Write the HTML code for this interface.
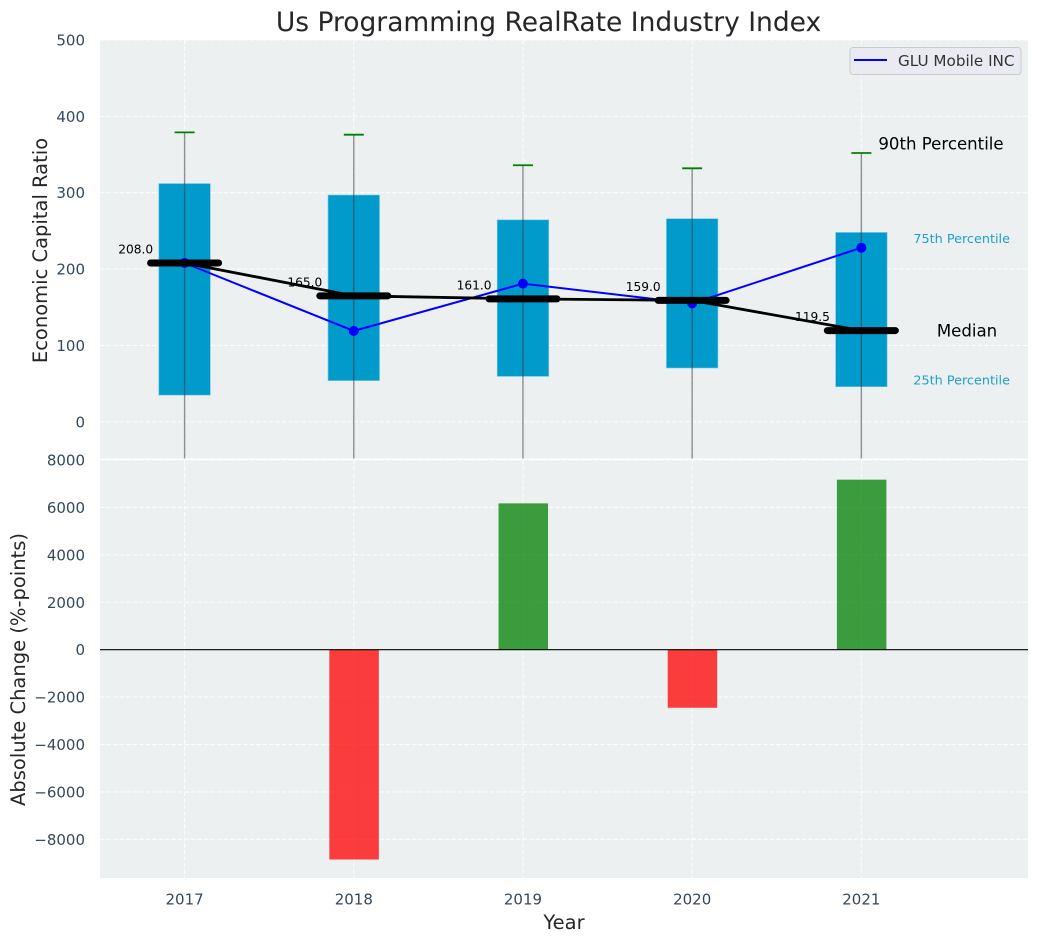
<!DOCTYPE html>
<html lang="en">
<head>
<meta charset="utf-8">
<title>Us Programming RealRate Industry Index</title>
<style>
html,body{margin:0;padding:0;background:#fff;}
svg{display:block;font-family:"DejaVu Sans","Liberation Sans",sans-serif;}
</style>
</head>
<body>
<svg id="chart" xmlns="http://www.w3.org/2000/svg" width="1039" height="942" viewBox="0 0 1039 942"></svg>
<script>
const years = [2017, 2018, 2019, 2020, 2021];
const p90 = [379, 376, 336, 332, 352];
const p75 = [312, 297, 264.5, 266, 248];
const p25 = [35, 54, 59.5, 70.5, 46];
const p10 = [-120, -110, -100, -90, -115];
const medians = [208, 165, 161, 159, 119.5];
const medianLabels = ['208.0', '165.0', '161.0', '159.0', '119.5'];
const companyValues = [208, 119, 181, 155, 228];
const changes = [0, -8850, 6170, -2450, 7170];
const ratioTicks = [0, 100, 200, 300, 400, 500];
const changeTicks = [-8000, -6000, -4000, -2000, 0, 2000, 4000, 6000, 8000];
const changeTickLabels = ['\u22128000', '\u22126000', '\u22124000', '\u22122000', '0', '2000', '4000', '6000', '8000'];

const NS = 'http://www.w3.org/2000/svg';
const svg = document.getElementById('chart');
const L = 100, R = 1028, T1 = 40, B1 = 458.5, T2 = 460, B2 = 878;
const x = v => L + (v - 2016.5) / (2021.985 - 2016.5) * (R - L);
const y1 = v => T1 + (500 - v) / 548 * (B1 - T1);
const y2 = v => T2 + (8000 - v) / 17630 * (B2 - T2);

function make(tag, attrs, text, parent) {
  const el = document.createElementNS(NS, tag);
  for (const k in attrs) el.setAttribute(k, attrs[k]);
  if (text !== undefined && text !== null) el.textContent = text;
  (parent || svg).appendChild(el);
  return el;
}

const defs = make('defs', {});
const clip = make('clipPath', {id: 'top-clip'}, null, defs);
make('rect', {x: L, y: T1, width: R - L, height: B1 - T1}, null, clip);

let el;
el = make('rect', {x: L, y: T1, width: R - L, height: B1 - T1, fill: '#ecf0f1'});


el = make('rect', {x: L, y: T2, width: R - L, height: B2 - T2, fill: '#ecf0f1'});



const gridStyle = {stroke: '#ffffff', 'stroke-width': 1.1, 'stroke-dasharray': '4.5 2', opacity: 0.85, fill: 'none'};

ratioTicks.forEach(t => {
  const g = make('line', Object.assign({x1: L, x2: R, y1: y1(t), y2: y1(t)}, gridStyle));
  
  
  const lab = make('text', {x: 85, y: y1(t) + 5.5, 'text-anchor': 'end', 'font-size': 15, fill: '#34495e'}, String(t));
  
  
});
changeTicks.forEach((t, i) => {
  const g = make('line', Object.assign({x1: L, x2: R, y1: y2(t), y2: y2(t)}, gridStyle));
  
  
  const lab = make('text', {x: 85, y: y2(t) + 5.5, 'text-anchor': 'end', 'font-size': 15, fill: '#34495e'}, changeTickLabels[i]);
  
  
});
years.forEach(yr => {
  const a = make('line', Object.assign({x1: x(yr), x2: x(yr), y1: T1, y2: B1}, gridStyle));
  
  
  const b = make('line', Object.assign({x1: x(yr), x2: x(yr), y1: T2, y2: B2}, gridStyle));
  
  
  const lab = make('text', {x: x(yr), y: 904.5, 'text-anchor': 'middle', 'font-size': 15, fill: '#34495e'}, String(yr));
  
  
});

const topGroup = make('g', {'clip-path': 'url(#top-clip)'});



const boxW = 51.5;
years.forEach((yr, i) => {
  const b = make('rect', {x: x(yr) - boxW / 2, y: y1(p75[i]), width: boxW, height: y1(p25[i]) - y1(p75[i]), fill: '#009acb', stroke: '#7cc6e0', 'stroke-width': 0.6}, null, topGroup);
  
  
});
years.forEach((yr, i) => {
  const w = make('line', {x1: x(yr), x2: x(yr), y1: y1(p90[i]), y2: y1(p10[i]), stroke: '#333b40', 'stroke-opacity': 0.55, 'stroke-width': 1.4}, null, topGroup);
  
  
  const c = make('line', {x1: x(yr) - 10, x2: x(yr) + 10, y1: y1(p90[i]), y2: y1(p90[i]), stroke: '#008000', 'stroke-width': 1.8}, null, topGroup);
  
  
});

const bluePts = years.map((yr, i) => x(yr) + ',' + y1(companyValues[i])).join(' ');
el = make('polyline', {points: bluePts, fill: 'none', stroke: '#0000ff', 'stroke-width': 2}, null, topGroup);


years.forEach((yr, i) => {
  const p = make('circle', {cx: x(yr), cy: y1(companyValues[i]), r: 5, fill: '#0000ff'}, null, topGroup);
  
  
});

const medPts = years.map((yr, i) => x(yr) + ',' + y1(medians[i])).join(' ');
el = make('polyline', {points: medPts, fill: 'none', stroke: '#000000', 'stroke-width': 2.8}, null, topGroup);


years.forEach((yr, i) => {
  const m = make('line', {x1: x(yr) - 34, x2: x(yr) + 34, y1: y1(medians[i]), y2: y1(medians[i]), stroke: '#000000', 'stroke-width': 7, 'stroke-linecap': 'round'}, null, topGroup);
  
  
  const t = make('text', {x: x(yr) - 31.5, y: y1(medians[i]) - 9.5, 'text-anchor': 'end', 'font-size': 12.2, fill: '#000000'}, medianLabels[i], topGroup);
  
  
});

const last = years.length - 1;
const lastX = x(years[last]);
el = make('text', {x: lastX + 17, y: y1(p90[last]) - 3.5, 'font-size': 16.6, fill: '#000000'}, '90th Percentile');


el = make('text', {x: lastX + 52, y: y1(p75[last]) + 10.5, 'font-size': 12.8, fill: '#1f9fcb'}, '75th Percentile');


el = make('text', {x: lastX + 75.5, y: y1(medians[last]) + 6, 'font-size': 16.6, fill: '#000000'}, 'Median');


el = make('text', {x: lastX + 52, y: y1(p25[last]) - 2, 'font-size': 12.8, fill: '#1f9fcb'}, '25th Percentile');



const barW = 49.5;
years.forEach((yr, i) => {
  const top = Math.min(y2(0), y2(changes[i]));
  const h = Math.abs(y2(changes[i]) - y2(0));
  const b = make('rect', {x: x(yr) - barW / 2 + 0.3, y: top, width: barW, height: h, fill: changes[i] >= 0 ? '#008000' : '#ff0000', 'fill-opacity': 0.75});
  
  
});
el = make('line', {x1: L, x2: R, y1: y2(0), y2: y2(0), stroke: '#000000', 'stroke-width': 1.2});



el = make('rect', {x: 850, y: 47.5, width: 171, height: 27, rx: 3, fill: '#eaeaf2', stroke: '#cccccc', 'stroke-width': 1});


el = make('line', {x1: 854, x2: 887, y1: 60, y2: 60, stroke: '#0000ff', 'stroke-width': 2});


el = make('text', {x: 898, y: 66, 'font-size': 15.2, fill: '#333333'}, 'GLU Mobile INC');



el = make('text', {x: 548.5, y: 31, 'text-anchor': 'middle', 'font-size': 26.5, fill: '#262626'}, 'Us Programming RealRate Industry Index');


el = make('text', {x: 564, y: 929, 'text-anchor': 'middle', 'font-size': 19.5, fill: '#262626'}, 'Year');


el = make('text', {transform: 'translate(47,250.5) rotate(-90)', 'text-anchor': 'middle', 'font-size': 19.5, fill: '#262626'}, 'Economic Capital Ratio');


el = make('text', {transform: 'translate(25,669.5) rotate(-90)', 'text-anchor': 'middle', 'font-size': 19.5, fill: '#262626'}, 'Absolute Change (%-points)');


</script>
</body>
</html>
